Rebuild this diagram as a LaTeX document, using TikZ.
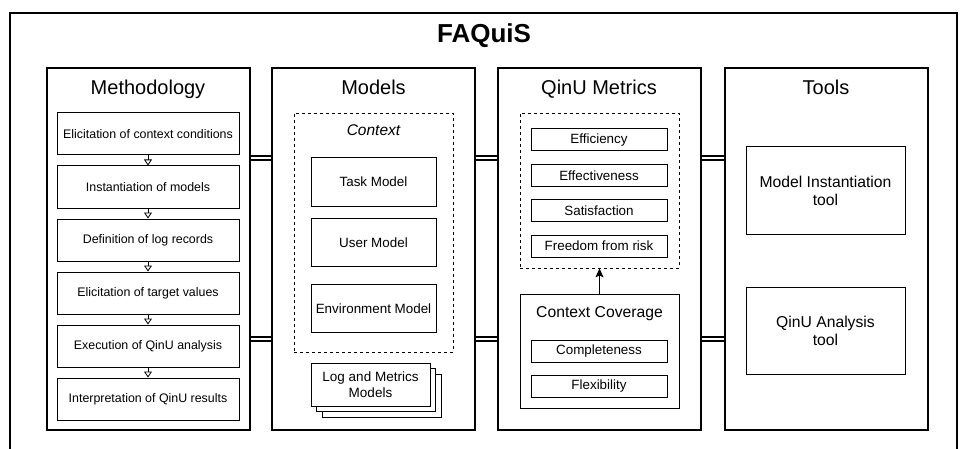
\documentclass[tikz,border=0pt]{standalone}
\usepackage{fontspec}
\setmainfont{Liberation Sans}
\usetikzlibrary{arrows.meta,shadows}

\begin{document}
\begin{tikzpicture}[x=1pt,y=1pt]
\tikzstyle{every node}+=[inner sep=0pt]
\tikzstyle{column}=[draw=black, line width=2pt, minimum width=203pt, minimum height=362pt]
\tikzstyle{heading}=[anchor=base, font=\fontsize{20}{24}\selectfont]
\tikzstyle{stepbox}=[draw=black, line width=1pt, minimum width=182pt, minimum height=42pt, font=\fontsize{12.4}{14}\selectfont]
\tikzstyle{modelbox}=[draw=black, line width=1pt, minimum width=125pt, minimum height=48pt, font=\fontsize{13.4}{16}\selectfont]
\tikzstyle{metricbox}=[draw=black, line width=1pt, minimum width=136pt, minimum height=22pt, font=\fontsize{13.4}{16}\selectfont]
\tikzstyle{toolbox}=[draw=black, line width=1pt, minimum width=159pt, minimum height=87pt, align=center, font=\fontsize{15.7}{18}\selectfont]
\tikzstyle{group}=[draw=black, dashed, line width=0.8pt]
\tikzstyle{link}=[double, double distance=2pt, line width=2pt]
\tikzstyle{flow}=[line width=0.8pt, -{Triangle[open, length=6pt, width=8pt]}]
\useasboundingbox (0,0) rectangle (963,-449);
% outer frame, open at the bottom
\draw [black, line width=2.8pt] (10,-449) -- (10,-13) -- (957,-13) -- (957,-449);
\node [anchor=base] (faquis) at (484,-43) {\fontsize{26}{30}\selectfont\bfseries FAQuiS};
% columns
\node [column] (meth) at (148,-249) {};
\node [column] (models) at (373.5,-249) {};
\node [column] (metrics) at (599,-249) {};
\node [column] (tools) at (826,-249) {};
\node [heading] (methtitle) at (148,-94.5) {Methodology};
\node [heading] (modelstitle) at (373.5,-94.5) {Models};
\node [heading] (metricstitle) at (599,-94.5) {QinU Metrics};
\node [heading] (toolstitle) at (826,-94.5) {Tools};
% methodology steps
\node [stepbox] (s1) at (148,-134) {Elicitation of context conditions};
\node [stepbox] (s2) at (148,-187) {Instantiation of models};
\node [stepbox] (s3) at (148,-240) {Definition of log records};
\node [stepbox] (s4) at (148,-293) {Elicitation of target values};
\node [stepbox] (s5) at (148,-346) {Execution of QinU analysis};
\node [stepbox] (s6) at (148,-399) {Interpretation of QinU results};
\draw [flow] (s1) -- (s2);
\draw [flow] (s2) -- (s3);
\draw [flow] (s3) -- (s4);
\draw [flow] (s4) -- (s5);
\draw [flow] (s5) -- (s6);
% models
\node [group, minimum width=159pt, minimum height=239pt] (context) at (373.5,-232.5) {};
\node [anchor=base, font=\fontsize{15.5}{18}\selectfont\itshape] (contexttitle) at (373.5,-136) {Context};
\node [modelbox] (task) at (373.5,-182) {Task Model};
\node [modelbox] (user) at (373.5,-242.5) {User Model};
\node [modelbox] (env) at (373.5,-308.5) {Environment Model};
\node [draw=black, fill=white, line width=1pt, minimum width=119pt, minimum height=43pt, align=center,
  font=\fontsize{13.5}{16}\selectfont,
  double copy shadow={shadow xshift=5.5pt, shadow yshift=-5.5pt, draw=black, fill=white, line width=1pt}]
  (logs) at (370.5,-384.5) {Log and Metrics\\Models};
% qinu metrics
\node [group, minimum width=159pt, minimum height=155pt] (quality) at (599.5,-190.5) {};
\node [metricbox] (eff) at (599,-140) {Efficiency};
\node [metricbox] (effect) at (599,-175.5) {Effectiveness};
\node [metricbox] (sat) at (599,-210.5) {Satisfaction};
\node [metricbox] (risk) at (599,-246) {Freedom from risk};
\node [draw=black, line width=1pt, minimum width=159pt, minimum height=114pt] (coverage) at (599.5,-351) {};
\node [anchor=base, font=\fontsize{15.7}{18}\selectfont] (coveragetitle) at (599.5,-317.3) {Context Coverage};
\node [metricbox] (compl) at (599,-351.5) {Completeness};
\node [metricbox] (flex) at (599,-386) {Flexibility};
\draw [line width=0.8pt, -{Stealth[length=9pt, width=8pt, inset=2pt]}] (coverage) -- (quality);
% tools
\node [toolbox] (instool) at (825.5,-190.5) {Model Instantiation\\tool};
\node [toolbox] (anatool) at (825.5,-331) {QinU Analysis\\tool};
% links between the columns
\coordinate (upper) at (0,-158);
\coordinate (lower) at (0,-339);
\draw [link] (meth.east |- upper) -- (models.west |- upper);
\draw [link] (meth.east |- lower) -- (models.west |- lower);
\draw [link] (models.east |- upper) -- (metrics.west |- upper);
\draw [link] (models.east |- lower) -- (metrics.west |- lower);
\draw [link] (metrics.east |- upper) -- (tools.west |- upper);
\draw [link] (metrics.east |- lower) -- (tools.west |- lower);
\end{tikzpicture}
\end{document}
